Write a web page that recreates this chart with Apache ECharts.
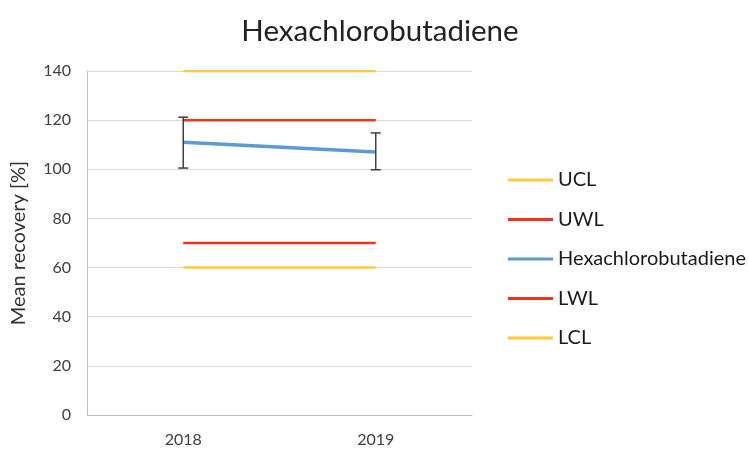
<!DOCTYPE html>
<html>
<head>
<meta charset="utf-8">
<script src="https://cdn.jsdelivr.net/npm/echarts@6/dist/echarts.min.js"></script>
<style>
html,body{margin:0;padding:0;background:#fff;}
#main{width:749px;height:450px;}
</style>
</head>
<body>
<div id="main"></div>
<script>
// chart data
var years = ['2018', '2019'];
var ucl = [140, 140];
var uwl = [120, 120];
var meanRecovery = [111, 107];
var lwl = [70, 70];
var lcl = [60, 60];
var errLow = [100.5, 99.8];
var errHigh = [121.2, 114.8];

var yellow = '#FFC83D';
var red = '#F0341C';
var blue = '#5B9BD5';

var errData = [];
for (var i = 0; i < years.length; i++) {
	errData.push([i, errLow[i], errHigh[i]]);
}

var myChart = echarts.init(document.getElementById('main'));

function lineSeries(name, data, color, width){
	return {
		name: name,
		type: 'line',
		data: data,
		symbol: 'none',
		lineStyle: {color: color, width: width},
		itemStyle: {color: color},
		z: name == 'Hexachlorobutadiene' ? 4 : 3
	};
}

myChart.setOption({
	animation: false,
	textStyle: {fontFamily: 'Lato'},
	title: {
		text: 'Hexachlorobutadiene',
		left: 375,
		top: 11,
		textAlign: 'center',
		textStyle: {fontSize: 29.5, fontWeight: 'normal', color: '#222', fontFamily: 'Lato'}
	},
	grid: {left: 87, right: 277, top: 71, bottom: 35},
	legend: {
		orient: 'vertical',
		left: 503,
		top: 165,
		itemGap: 19.5,
		itemWidth: 45,
		itemHeight: 3,
		itemStyle: {borderWidth: 0},
		icon: 'rect',
		textStyle: {fontSize: 20, lineHeight: 20, color: '#1a1a1a', fontFamily: 'Lato'},
		data: ['UCL', 'UWL', 'Hexachlorobutadiene', 'LWL', 'LCL']
	},
	xAxis: {
		type: 'category',
		data: years,
		boundaryGap: true,
		axisLine: {lineStyle: {color: '#bfbfbf', width: 1}},
		axisTick: {show: false},
		axisLabel: {color: '#404040', fontSize: 16, margin: 17}
	},
	yAxis: {
		type: 'value',
		min: 0,
		max: 140,
		interval: 20,
		name: 'Mean recovery [%]',
		nameLocation: 'middle',
		nameGap: 58,
		nameTextStyle: {fontSize: 20, color: '#333'},
		axisLine: {show: true, lineStyle: {color: '#bfbfbf', width: 1}},
		axisTick: {show: false},
		axisLabel: {color: '#404040', fontSize: 16, margin: 16},
		splitLine: {lineStyle: {color: '#d9d9d9', width: 1}}
	},
	series: [
		lineSeries('UCL', ucl, yellow, 2.5),
		lineSeries('UWL', uwl, red, 2.5),
		lineSeries('Hexachlorobutadiene', meanRecovery, blue, 3.5),
		lineSeries('LWL', lwl, red, 2.5),
		lineSeries('LCL', lcl, yellow, 2.5),
		{
			name: 'error',
			type: 'custom',
			z: 5,
			data: errData,
			renderItem: function(params, api){
				var x = api.value(0);
				var lo = api.coord([x, api.value(1)]);
				var hi = api.coord([x, api.value(2)]);
				var hw = 5;
				var st = {stroke: '#404040', lineWidth: 1.5};
				return {
					type: 'group',
					children: [
						{type: 'line', shape: {x1: lo[0], y1: lo[1], x2: hi[0], y2: hi[1]}, style: st},
						{type: 'line', shape: {x1: lo[0] - hw, y1: lo[1], x2: lo[0] + hw, y2: lo[1]}, style: st},
						{type: 'line', shape: {x1: hi[0] - hw, y1: hi[1], x2: hi[0] + hw, y2: hi[1]}, style: st}
					]
				};
			}
		}
	]
});
</script>
</body>
</html>
